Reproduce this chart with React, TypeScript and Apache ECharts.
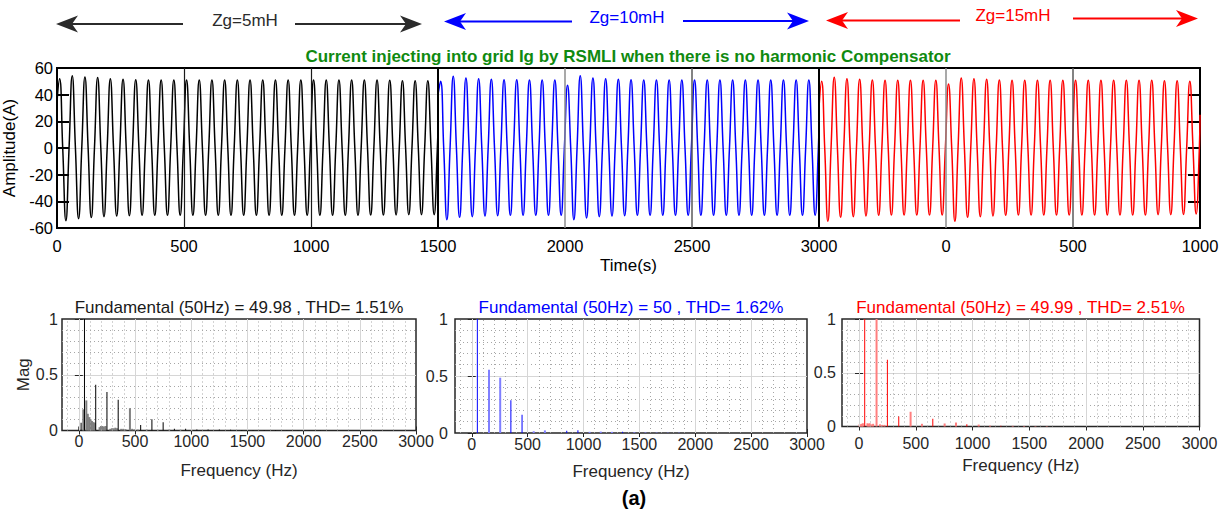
import React, { useEffect, useRef } from "react";
import * as echarts from "echarts";

const FONT = '"Liberation Sans", Arial, Helvetica, sans-serif';

// ---------------- Top chart: grid current, peak / trough of every fundamental cycle ----------------
const CYCLE = 50; // samples per fundamental cycle
const PEAK_OFFSET = 10; // position of the positive peak inside each cycle
const timeTickLabels = ["0", "500", "1000", "1500", "2000", "2500", "3000", "0", "500", "1000"];

// Zg = 5 mH (cycles 0..29)
const blackPos = [52, 54.2, 53.2, 52.8, 52, 51.5, 51.2, 51, 51, 51, 51, 51, 51, 51, 51, 51, 51, 51, 51, 51, 51, 51, 51, 51, 51, 51, 50.8, 50.5, 50.5, 50.5];
const blackNeg = [-54.5, -53, -52.2, -51.5, -51, -50.8, -50.5, -50.5, -50.5, -50.5, -50.5, -50.5, -50.5, -50.5, -50.5, -50.5, -50.5, -50.5, -50.5, -50.5, -50.5, -50.5, -50.5, -50.5, -50.3, -50.3, -50.2, -50, -50, -50];
const blackStart: [number, number] = [0, 35];
const blackEnd: [number, number] = [1500, 16];

// Zg = 10 mH (cycles 30..59)
const bluePos = [50, 53.8, 52.5, 52, 51.5, 51.2, 51.2, 51, 51, 51, 47, 54.2, 52.5, 52, 51.5, 51.2, 51, 51, 51, 51, 51, 51, 51, 51, 51, 51, 51, 51, 51, 51];
const blueNeg = [-53.8, -52, -51.5, -51, -50.8, -50.5, -50.5, -50.5, -50.5, -50.5, -53.8, -52.5, -51.5, -51, -50.8, -50.5, -50.5, -50.5, -50.5, -50.5, -50.5, -50.5, -50.5, -50.5, -50.5, -50.5, -50.5, -50.5, -50.5, -50.5];
const blueStart: [number, number] = [1500, 40];
const blueEnd: [number, number] = [3000, 16];

// Zg = 15 mH (cycles 60..89)
const redPos = [50, 53, 52, 51.5, 51, 50.8, 50.8, 50.8, 50.8, 50.8, 48, 52.5, 52, 51.5, 51, 50.8, 50.8, 50.8, 50.8, 50.8, 50.8, 50.8, 50.8, 50.8, 50.8, 50.8, 50.8, 50.5, 50.5, 50];
const redNeg = [-55, -52, -51.5, -51, -50.5, -50.3, -50.3, -50.3, -50.3, -50.3, -55, -52, -51.5, -51, -50.5, -50.3, -50.3, -50.3, -50.3, -50.3, -50.3, -50.3, -50.3, -50.3, -50.3, -50.3, -50, -50, -49.8, -49.5];
const redStart: [number, number] = [3000, 30];
const redEnd: [number, number] = [4500, 25];

// ---------------- Bottom charts: FFT spectra [frequency Hz, magnitude] ----------------
const freqTicks = [0, 500, 1000, 1500, 2000, 2500, 3000];
const plotTitles = [
  "Fundamental (50Hz) = 49.98 , THD= 1.51%",
  "Fundamental (50Hz) = 50 , THD= 1.62%",
  "Fundamental (50Hz) = 49.99 , THD= 2.51%",
];

const spec1Thin = [[0, 0.036], [20, 0.07], [50, 1.0], [150, 0.41], [250, 0.345], [350, 0.275], [550, 0.05], [650, 0.1], [750, 0.075], [850, 0.015], [950, 0.015], [1050, 0.01], [1150, 0.008], [1250, 0.008], [1350, 0.006], [1450, 0.005], [1550, 0.005], [1650, 0.004], [1750, 0.004], [1850, 0.003], [1950, 0.003], [2050, 0.002], [2150, 0.002]];
const spec1Wide = [[35, 0.19], [62, 0.27], [75, 0.15], [87, 0.12], [100, 0.1], [112, 0.085], [125, 0.075], [138, 0.07], [180, 0.03], [192, 0.04], [205, 0.04], [218, 0.035], [232, 0.04], [275, 0.015], [290, 0.02], [305, 0.02], [320, 0.025], [335, 0.02], [372, 0.015], [390, 0.015], [410, 0.012], [450, 0.2], [470, 0.015], [490, 0.01], [520, 0.008], [600, 0.008], [700, 0.006], [800, 0.008], [900, 0.006], [1000, 0.005]];

const spec2Thin = [[50, 1.0], [350, 0.287], [450, 0.16], [850, 0.02], [950, 0.025], [1350, 0.01]];
const spec2Wide = [[150, 0.555], [250, 0.485], [550, 0.015], [650, 0.023], [1050, 0.01], [1150, 0.012], [1250, 0.01], [1450, 0.006], [1550, 0.005], [1650, 0.004], [1750, 0.003], [1850, 0.003]];

const spec3Thin = [[50, 1.0], [250, 0.62], [350, 0.093], [650, 0.071], [950, 0.02], [1250, 0.008]];
const spec3Wide = [[0, 0.02], [10, 0.02], [20, 0.025], [30, 0.03], [70, 0.03], [80, 0.025], [90, 0.03], [105, 0.02], [120, 0.025], [150, 1.0], [180, 0.02], [200, 0.015], [220, 0.015], [450, 0.137], [550, 0.025], [750, 0.028], [850, 0.037], [1050, 0.018], [1150, 0.008], [1350, 0.006], [1450, 0.005], [1550, 0.004], [1650, 0.004]];

// ---------------- helpers ----------------
function waveData(pos: number[], neg: number[], firstCycle: number, start: [number, number], end: [number, number]) {
  const pts: [number, number][] = [start];
  for (let i = 0; i < pos.length; i++) {
    const base = (firstCycle + i) * CYCLE + PEAK_OFFSET;
    pts.push([base, pos[i]]);
    pts.push([base + CYCLE / 4, 0]);
    pts.push([base + CYCLE / 2, neg[i]]);
    pts.push([base + (3 * CYCLE) / 4, 0]);
  }
  pts.push(end);
  return pts;
}

function arrowEls(tipX: number, tailX: number, y: number, color: string) {
  const dir = tipX < tailX ? 1 : -1;
  return [
    {
      type: "line",
      shape: { x1: tipX + dir * 14, y1: y, x2: tailX, y2: y },
      style: { stroke: color, lineWidth: 2.2 },
      silent: true,
    },
    {
      type: "polygon",
      shape: {
        points: [
          [tipX, y],
          [tipX + dir * 22, y - 8.5],
          [tipX + dir * 16, y],
          [tipX + dir * 22, y + 8.5],
        ],
      },
      style: { fill: color },
      silent: true,
    },
  ];
}

function textEl(text: string, x: number, y: number, color: string, size: number, bold = false) {
  return {
    type: "text",
    x,
    y,
    silent: true,
    style: {
      text,
      fill: color,
      fontSize: size,
      fontFamily: FONT,
      fontWeight: bold ? "bold" : "normal",
      align: "center",
      verticalAlign: "middle",
      textAlign: "center",
      textVerticalAlign: "middle",
    },
  };
}

function buildOption() {
  const topGrid = { left: 57, top: 68, width: 1143, height: 160 };
  const bottomGrids = [
    { left: 62, top: 319, width: 354, height: 111.5 },
    { left: 455, top: 319, width: 352, height: 114 },
    { left: 842, top: 319, width: 357.5, height: 107.5 },
  ];
  const bottomXLabelMargin = [3, 3, 9];
  const bottomXNameGap = [31, 30, 30];
  const bottomYLabelMargin = [4, 7, 6];
  const titleColors = ["#1a1a1a", "#0000ff", "#ff0000"];
  const titleX = [239, 631, 1020.5];
  const thinColors = ["#000000", "#0000ff", "#ff0000"];
  const wideColors = ["#7f7f7f", "#7f7fff", "#ff7f7f"];
  const thinData = [spec1Thin, spec2Thin, spec3Thin];
  const wideData = [spec1Wide, spec2Wide, spec3Wide];

  const grid: any[] = [
    { ...topGrid, show: true, borderColor: "#000", borderWidth: 2, backgroundColor: "transparent", containLabel: false, outerBoundsMode: "none" },
    ...bottomGrids.map((g) => ({ ...g, show: true, borderColor: "#262626", borderWidth: 1.5, backgroundColor: "transparent", containLabel: false, outerBoundsMode: "none" })),
  ];

  const xAxis: any[] = [
    {
      gridIndex: 0,
      type: "value",
      min: 0,
      max: 4500,
      interval: 500,
      axisLine: { show: false },
      axisTick: { show: false },
      splitLine: { show: false },
      axisLabel: {
        margin: 9,
        fontSize: 16.5,
        color: "#000",
        fontFamily: FONT,
        formatter: (v: number) => timeTickLabels[Math.round(v / 500)] ?? "",
      },
      name: "Time(s)",
      nameLocation: "middle",
      nameGap: 29,
      nameTextStyle: { fontSize: 17, color: "#000", fontFamily: FONT },
    },
  ];
  const yAxis: any[] = [
    {
      gridIndex: 0,
      type: "value",
      min: -60,
      max: 60,
      interval: 20,
      axisLine: { show: false },
      axisTick: { show: true, inside: true, length: 12, lineStyle: { color: "#000", width: 2 } },
      axisLabel: { margin: 4, fontSize: 16.5, color: "#000", fontFamily: FONT },
      splitLine: { show: true, showMinLine: false, showMaxLine: false, lineStyle: { color: "#d9d9d9", width: 1 } },
      name: "Amplitude(A)",
      nameLocation: "middle",
      nameGap: 30,
      nameTextStyle: { fontSize: 17, color: "#000", fontFamily: FONT },
    },
    {
      gridIndex: 0,
      type: "value",
      position: "right",
      min: -60,
      max: 60,
      interval: 20,
      axisLine: { show: false },
      axisTick: { show: true, inside: true, length: 12, lineStyle: { color: "#000", width: 2 } },
      axisLabel: { show: false },
      splitLine: { show: false },
    },
  ];

  bottomGrids.forEach((_, i) => {
    xAxis.push({
      gridIndex: i + 1,
      type: "value",
      min: -150,
      max: 3000,
      axisLine: { show: false },
      axisTick: { show: true, inside: true, length: 4, customValues: freqTicks, lineStyle: { color: "#262626", width: 1 } },
      axisLabel: {
        customValues: freqTicks,
        margin: bottomXLabelMargin[i],
        fontSize: 16,
        color: "#262626",
        fontFamily: FONT,
        formatter: (v: number) => String(v),
      },
      splitLine: { show: false },
      name: "Frequency (Hz)",
      nameLocation: "middle",
      nameGap: bottomXNameGap[i],
      nameTextStyle: { fontSize: 17, color: "#262626", fontFamily: FONT },
    });
    xAxis.push({
      gridIndex: i + 1,
      type: "value",
      position: "top",
      min: -150,
      max: 3000,
      axisLine: { show: false },
      axisTick: { show: true, inside: true, length: 4, customValues: freqTicks, lineStyle: { color: "#262626", width: 1 } },
      axisLabel: { show: false, customValues: freqTicks },
      splitLine: { show: false },
    });
    yAxis.push({
      gridIndex: i + 1,
      type: "value",
      min: 0,
      max: 1,
      interval: 0.5,
      axisLine: { show: false },
      axisTick: { show: true, inside: true, length: 4, lineStyle: { color: "#262626", width: 1 } },
      axisLabel: { margin: bottomYLabelMargin[i], fontSize: 16, color: "#262626", fontFamily: FONT },
      splitLine: { show: true, showMinLine: false, showMaxLine: false, lineStyle: { color: "#d6d6d6", width: 1 } },
      minorTick: { show: false, splitNumber: 5 },
      minorSplitLine: { show: true, lineStyle: { color: "#a6a6a6", width: 1, type: [1, 3] } },
      name: i === 0 ? "Mag" : "",
      nameLocation: "middle",
      nameGap: 29,
      nameTextStyle: { fontSize: 17, color: "#262626", fontFamily: FONT },
    });
    yAxis.push({
      gridIndex: i + 1,
      type: "value",
      position: "right",
      min: 0,
      max: 1,
      interval: 0.5,
      axisLine: { show: false },
      axisTick: { show: true, inside: true, length: 4, lineStyle: { color: "#262626", width: 1 } },
      axisLabel: { show: false },
      splitLine: { show: false },
    });
  });

  // vertical guide lines of the top chart (styling only)
  const topVLines = [
    { x: 500, color: "#1a1a1a", w: 1.2 },
    { x: 1000, color: "#1a1a1a", w: 1.2 },
    { x: 1500, color: "#000000", w: 2 },
    { x: 2000, color: "#8c8c8c", w: 1.5 },
    { x: 2500, color: "#5a5a5a", w: 1.5 },
    { x: 3000, color: "#000000", w: 2 },
    { x: 3500, color: "#8c8c8c", w: 1.5 },
    { x: 4000, color: "#5a5a5a", w: 1.5 },
  ];

  const series: any[] = [
    {
      type: "line",
      xAxisIndex: 0,
      yAxisIndex: 0,
      data: [],
      z: 1,
      silent: true,
      markLine: {
        silent: true,
        symbol: ["none", "none"],
        label: { show: false },
        animation: false,
        data: topVLines.map((l) => ({ xAxis: l.x, lineStyle: { color: l.color, width: l.w, type: "solid" } })),
      },
    },
    {
      type: "line",
      name: "Zg=5mH",
      xAxisIndex: 0,
      yAxisIndex: 0,
      data: waveData(blackPos, blackNeg, 0, blackStart, blackEnd),
      showSymbol: false,
      symbol: "none",
      smooth: 0.5,
      lineStyle: { color: "#000000", width: 1.5 },
      z: 3,
      silent: true,
    },
    {
      type: "line",
      name: "Zg=10mH",
      xAxisIndex: 0,
      yAxisIndex: 0,
      data: waveData(bluePos, blueNeg, 30, blueStart, blueEnd),
      showSymbol: false,
      symbol: "none",
      smooth: 0.5,
      lineStyle: { color: "#0000ff", width: 1.5 },
      z: 3,
      silent: true,
    },
    {
      type: "line",
      name: "Zg=15mH",
      xAxisIndex: 0,
      yAxisIndex: 0,
      data: waveData(redPos, redNeg, 60, redStart, redEnd),
      showSymbol: false,
      symbol: "none",
      smooth: 0.5,
      lineStyle: { color: "#ff0000", width: 1.5 },
      z: 3,
      silent: true,
    },
  ];

  // grid lines for the spectra (major solid every 500 Hz, minor dotted every 100 Hz)
  const majorX: number[] = [];
  const minorX: number[] = [];
  for (let f = -100; f < 3000; f += 100) {
    if (f % 500 === 0) majorX.push(f);
    else minorX.push(f);
  }

  bottomGrids.forEach((_, i) => {
    const xi = 1 + i * 2;
    const yi = 2 + i * 2;
    series.push({
      type: "line",
      xAxisIndex: xi,
      yAxisIndex: yi,
      data: [],
      z: 1,
      silent: true,
      markLine: {
        silent: true,
        symbol: ["none", "none"],
        label: { show: false },
        animation: false,
        data: [
          ...majorX.map((x) => ({ xAxis: x, lineStyle: { color: "#d6d6d6", width: 1, type: "solid" } })),
          ...minorX.map((x) => ({ xAxis: x, lineStyle: { color: "#a6a6a6", width: 1, type: [1, 3] } })),
        ],
      },
    });
    series.push({
      type: "bar",
      xAxisIndex: xi,
      yAxisIndex: yi,
      data: wideData[i],
      barWidth: 2,
      barGap: "-100%",
      itemStyle: { color: wideColors[i] },
      z: 3,
      silent: true,
    });
    series.push({
      type: "bar",
      xAxisIndex: xi,
      yAxisIndex: yi,
      data: thinData[i],
      barWidth: 1,
      barGap: "-100%",
      itemStyle: { color: thinColors[i] },
      z: 4,
      silent: true,
    });
  });

  const graphic: any[] = [
    ...arrowEls(56, 183, 24, "#2b2b2b"),
    ...arrowEls(422, 295, 24, "#2b2b2b"),
    textEl("Zg=5mH", 245, 20, "#2b2b2b", 17),
    ...arrowEls(444, 572, 21.5, "#0000ff"),
    ...arrowEls(809, 683, 21, "#0000ff"),
    textEl("Zg=10mH", 627, 17, "#0000ff", 17),
    ...arrowEls(826, 960, 20.5, "#ff0000"),
    ...arrowEls(1198, 1073, 18.5, "#ff0000"),
    textEl("Zg=15mH", 1013, 15, "#ff0000", 17),
    textEl("Current injecting into grid Ig by RSMLI when there is no harmonic Compensator", 628, 56, "#108a10", 17, true),
    ...plotTitles.map((t, i) => textEl(t, titleX[i], 307, titleColors[i], 17)),
    textEl("(a)", 634, 498, "#000", 20, true),
  ];

  return {
    animation: false,
    backgroundColor: "#ffffff",
    textStyle: { fontFamily: FONT },
    grid,
    xAxis,
    yAxis,
    series,
    graphic: { elements: graphic },
  };
}

export default function App() {
  const ref = useRef<HTMLDivElement>(null);
  useEffect(() => {
    if (!ref.current) return;
    const chart = echarts.init(ref.current, null, { renderer: "svg" });
    chart.setOption(buildOption() as any);
    return () => chart.dispose();
  }, []);
  return <div ref={ref} style={{ position: "absolute", left: 0, top: 0, width: 1230, height: 512 }} />;
}
